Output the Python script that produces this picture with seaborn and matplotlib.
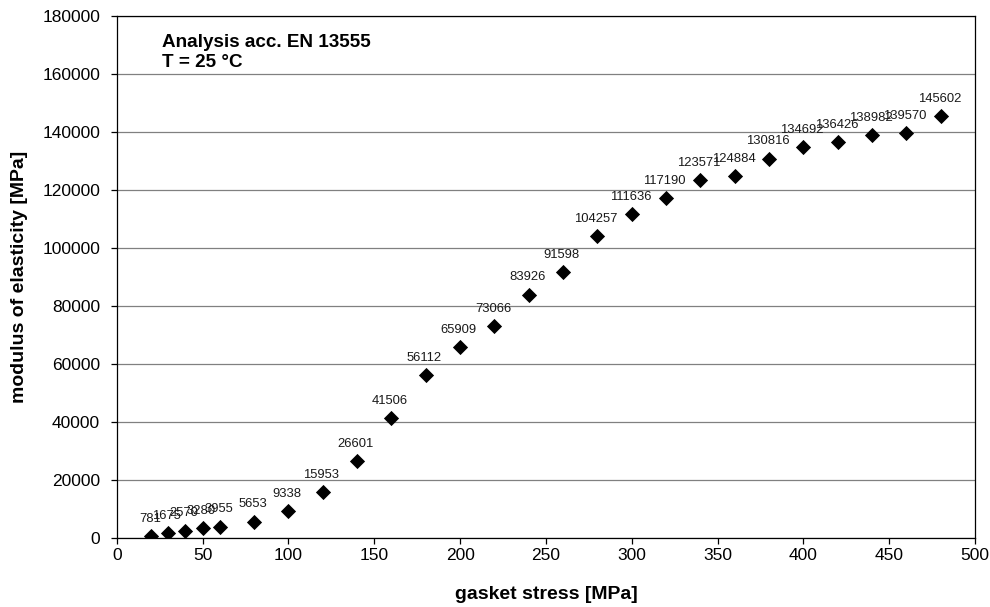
import matplotlib
matplotlib.use("Agg")
import matplotlib.pyplot as plt
import seaborn as sns
import pandas as pd

# gasket stress [MPa] and modulus of elasticity [MPa]
stress = [20, 30, 40, 50, 60, 80, 100, 120, 140, 160, 180, 200, 220, 240,
          260, 280, 300, 320, 340, 360, 380, 400, 420, 440, 460, 480]
modulus = [781, 1675, 2570, 3280, 3955, 5653, 9338, 15953, 26601, 41506,
           56112, 65909, 73066, 83926, 91598, 104257, 111636, 117190,
           123571, 124884, 130816, 134692, 136426, 138982, 139570, 145602]
x_ticks = [0, 50, 100, 150, 200, 250, 300, 350, 400, 450, 500]
y_ticks = [0, 20000, 40000, 60000, 80000, 100000, 120000, 140000, 160000, 180000]

df = pd.DataFrame({"stress": stress, "modulus": modulus})

sns.set_theme(style="white")
plt.rcParams["font.family"] = ["Liberation Sans", "DejaVu Sans"]
plt.rcParams["text.color"] = "black"

fig = plt.figure(figsize=(9.9, 6.07), dpi=100)
ax = fig.add_axes([0.118, 0.1137, 0.867, 0.860])

sns.scatterplot(data=df, x="stress", y="modulus", marker="D", s=60,
                color="black", edgecolor="black", linewidth=0, ax=ax, zorder=3)

for xv, yv in zip(stress, modulus):
    ax.annotate(f"{yv}", (xv, yv), xytext=(-1, 8), textcoords="offset points",
                ha="center", va="bottom", fontsize=9.4, color="#1a1a1a")

ax.set_xlim(0, 500)
ax.set_ylim(0, 180000)
ax.set_xticks(x_ticks)
ax.set_yticks(y_ticks)
ax.set_xticklabels([str(v) for v in x_ticks], fontsize=12.5, color="black")
ax.set_yticklabels([str(v) for v in y_ticks], fontsize=12.5, color="black")
ax.yaxis.grid(True, color="#808080", linewidth=0.9)
ax.xaxis.grid(False)
ax.set_axisbelow(True)
for sp in ax.spines.values():
    sp.set_color("black")
    sp.set_linewidth(0.9)
ax.tick_params(axis="both", direction="out", length=4, width=0.9,
               color="black", bottom=True, left=True, pad=3)
ax.tick_params(axis="y", pad=8)

ax.set_xlabel("gasket stress [MPa]", fontsize=14, fontweight="bold",
              labelpad=17, color="black")
ax.set_ylabel("modulus of elasticity [MPa]", fontsize=14, fontweight="bold",
              labelpad=10, color="black")

ax.text(0.053, 0.966, "Analysis acc. EN 13555\nT = 25 °C", transform=ax.transAxes,
        ha="left", va="top", fontsize=13.6, fontweight="bold", linespacing=1.22)

fig.savefig("out.png", dpi=100)
